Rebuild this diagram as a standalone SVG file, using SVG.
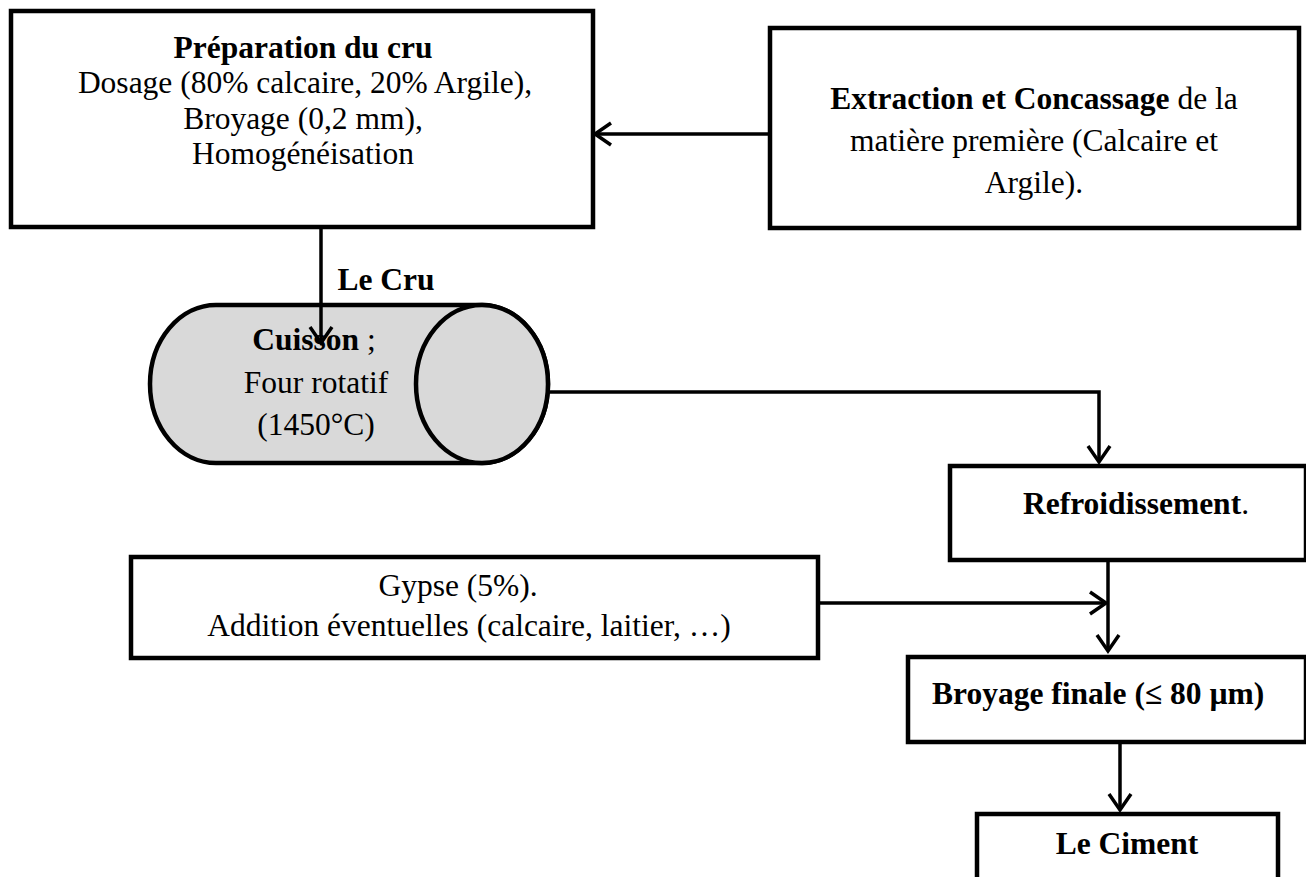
<svg xmlns="http://www.w3.org/2000/svg" width="1306" height="877" viewBox="0 0 1306 877">
<style>
.box{fill:#fff;stroke:#000;stroke-width:4.5}
.cyl{fill:#d9d9d9;stroke:#000;stroke-width:4.5}
.t{font-family:"Liberation Serif","Times New Roman",serif;font-size:31.5px;fill:#000;text-anchor:middle}
.b{font-weight:bold}
.c{fill:none;stroke:#000;stroke-width:3.5}
</style>
<defs>
<marker id="ah" markerUnits="userSpaceOnUse" viewBox="-20 -14 24 28" refX="0" refY="0" markerWidth="24" markerHeight="28" orient="auto">
<path d="M-16,-11 L0,0 L-16,11" fill="none" stroke="#000" stroke-width="3.5"/>
</marker>
</defs>
<g id="preparation">
<rect class="box" x="11" y="11" width="582" height="216"/>
<text class="t b" x="303" y="58">Préparation du cru</text>
<text class="t" x="305" y="93">Dosage (80% calcaire, 20% Argile),</text>
<text class="t" x="303" y="129">Broyage (0,2 mm),</text>
<text class="t" x="303" y="164">Homogénéisation</text>
</g>
<g id="extraction">
<rect class="box" x="770" y="28" width="529" height="200"/>
<text class="t" x="1034" y="109"><tspan class="b">Extraction et Concassage</tspan> de la</text>
<text class="t" x="1034" y="151">matière première (Calcaire et</text>
<text class="t" x="1034" y="193">Argile).</text>
</g>
<g id="lecru-label">
<text class="t b" x="386" y="290">Le Cru</text>
</g>
<g id="cuisson">
<path class="cyl" d="M216,305 H482 A66,79 0 0 1 482,463 H216 A66,79 0 0 1 216,305 Z"/>
<ellipse class="cyl" cx="482" cy="384" rx="66" ry="79"/>
<text class="t" x="314" y="350"><tspan class="b">Cuisson</tspan> ;</text>
<text class="t" x="316" y="393">Four rotatif</text>
<text class="t" x="316" y="435">(1450°C)</text>
</g>
<g id="refroidissement">
<rect class="box" x="950" y="466" width="356" height="94"/>
<text class="t" x="1136" y="514"><tspan class="b">Refroidissement</tspan>.</text>
</g>
<g id="gypse">
<rect class="box" x="131" y="557" width="687" height="101"/>
<text class="t" x="458" y="596">Gypse (5%).</text>
<text class="t" x="469" y="636">Addition éventuelles (calcaire, laitier,  …)</text>
</g>
<g id="broyage">
<rect class="box" x="908" y="657" width="398" height="85"/>
<text class="t b" x="932" y="704" style="text-anchor:start">Broyage finale (≤ 80 µm)</text>
</g>
<g id="ciment">
<rect class="box" x="977" y="814" width="301" height="80"/>
<text class="t b" x="1127" y="854">Le Ciment</text>
</g>
<g id="connectors">
<line class="c" x1="770" y1="134" x2="595" y2="134" marker-end="url(#ah)"/>
<line class="c" x1="321" y1="227" x2="321" y2="343" marker-end="url(#ah)"/>
<path class="c" d="M548,392 H1099 V462" marker-end="url(#ah)"/>
<line class="c" x1="1108" y1="560" x2="1108" y2="651" marker-end="url(#ah)"/>
<line class="c" x1="818" y1="603" x2="1106" y2="603" marker-end="url(#ah)"/>
<line class="c" x1="1120" y1="742" x2="1120" y2="810" marker-end="url(#ah)"/>
</g>
</svg>
